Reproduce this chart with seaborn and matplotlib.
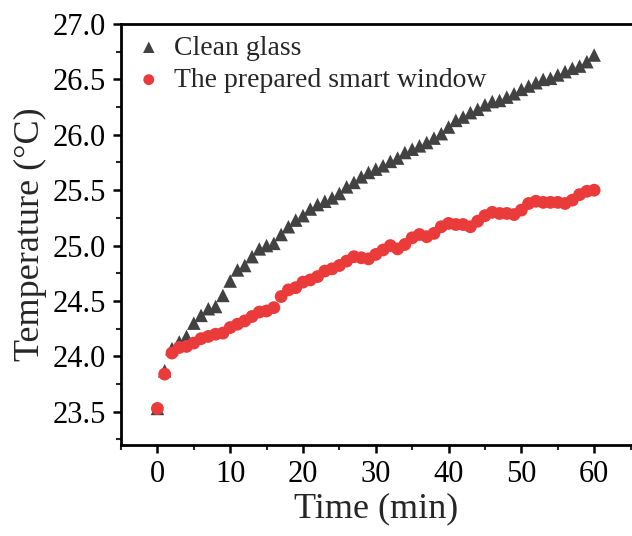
import numpy as np
import pandas as pd
import matplotlib
matplotlib.use("Agg")
import matplotlib.pyplot as plt
import seaborn as sns
from matplotlib.ticker import MultipleLocator

time_min = list(range(0, 61))
clean_glass = [23.53, 23.87, 24.07, 24.13, 24.18, 24.30, 24.37, 24.43, 24.45, 24.55,
               24.68, 24.78, 24.82, 24.90, 24.97, 25.00, 25.02, 25.10, 25.17, 25.23,
               25.27, 25.33, 25.37, 25.40, 25.43, 25.47, 25.53, 25.57, 25.62, 25.66,
               25.69, 25.72, 25.76, 25.79, 25.84, 25.87, 25.90, 25.93, 25.97, 26.01,
               26.07, 26.13, 26.16, 26.20, 26.23, 26.27, 26.30, 26.31, 26.34, 26.37,
               26.41, 26.44, 26.47, 26.50, 26.51, 26.54, 26.57, 26.60, 26.62, 26.66,
               26.72]
smart_window = [23.53, 23.84, 24.03, 24.08, 24.09, 24.12, 24.16, 24.18, 24.20, 24.21,
                24.26, 24.29, 24.32, 24.36, 24.40, 24.41, 24.44, 24.54, 24.60, 24.62,
                24.67, 24.69, 24.72, 24.77, 24.79, 24.82, 24.86, 24.90, 24.89, 24.88,
                24.92, 24.96, 25.00, 24.97, 25.01, 25.07, 25.10, 25.08, 25.11, 25.17,
                25.20, 25.19, 25.19, 25.17, 25.22, 25.27, 25.30, 25.29, 25.29, 25.28,
                25.32, 25.38, 25.40, 25.39, 25.39, 25.39, 25.38, 25.41, 25.46, 25.49,
                25.50]
labels = ["Clean glass", "The prepared smart window"]
x_ticks = [0, 10, 20, 30, 40, 50, 60]
y_ticks = [23.5, 24.0, 24.5, 25.0, 25.5, 26.0, 26.5, 27.0]

sns.set_theme(style="ticks")
plt.rcParams["font.family"] = ["Liberation Serif", "DejaVu Serif"]

fig = plt.figure(figsize=(6.32, 5.36), dpi=100)
ax = fig.add_axes([121 / 632, (536 - 445) / 536, 1 - 121 / 632, (445 - 24) / 536])

df1 = pd.DataFrame({"t": time_min, "T": clean_glass})
df2 = pd.DataFrame({"t": time_min, "T": smart_window})
sns.scatterplot(data=df1, x="t", y="T", ax=ax, marker="^", s=95, color="#424242",
                edgecolor="none", label=labels[0], zorder=2)
sns.scatterplot(data=df2, x="t", y="T", ax=ax, marker="o", s=85, color="#ea3a3a",
                edgecolor="none", label=labels[1], zorder=3)

ax.set_xlim(-5, 65.2)
ax.set_ylim(23.2, 27.0)
ax.set_xticks(x_ticks)
ax.set_yticks(y_ticks)
ax.set_yticklabels([f"{v:.1f}" for v in y_ticks])
ax.xaxis.set_minor_locator(MultipleLocator(5))
ax.yaxis.set_minor_locator(MultipleLocator(0.25))

for side in ["left", "bottom", "top"]:
    ax.spines[side].set_linewidth(2.0)
    ax.spines[side].set_color("black")
ax.spines["right"].set_visible(False)

ax.tick_params(axis="both", which="major", direction="out", length=6, width=1.8,
               labelsize=22, colors="black", pad=5)
ax.tick_params(axis="both", which="minor", direction="out", length=3.5, width=1.5)
ax.tick_params(top=False, right=False, which="both")

ax.set_xlabel("Time (min)", fontsize=26, labelpad=2)
ax.set_ylabel("Temperature (\u00b0C)", fontsize=26, labelpad=4)

leg = ax.legend(loc="upper left", frameon=False, fontsize=20, handletextpad=0.3,
                borderaxespad=0.1, labelspacing=0.25, markerscale=0.85,
                borderpad=0.3, handlelength=1.2)

fig.savefig("out.png", dpi=100)
